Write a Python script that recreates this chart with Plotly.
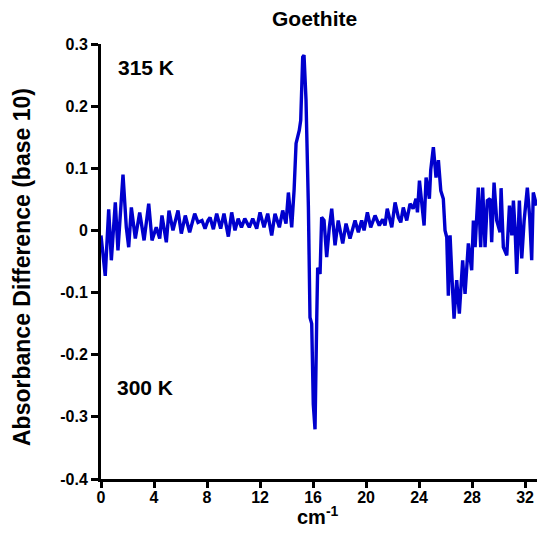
import plotly.graph_objects as go

wavenumber = [0.0, 0.32, 0.58, 0.78, 1.08, 1.28, 1.66, 1.91, 2.09, 2.29, 2.59, 2.92, 3.25, 3.6, 3.85,
              4.17, 4.43, 4.6, 4.93, 5.13, 5.43, 5.81, 6.06, 6.36, 6.69, 7.07, 7.32, 7.62, 7.85, 8.07,
              8.23, 8.48, 8.73, 9.03, 9.28, 9.61, 9.86, 10.11, 10.35, 10.6, 10.85, 11.19, 11.45, 11.75,
              12.0, 12.3, 12.58, 12.88, 13.13, 13.46, 13.71, 13.96, 14.14, 14.39, 14.57, 14.72, 14.96,
              15.07, 15.22, 15.32, 15.47, 15.65, 15.77, 15.9, 16.02, 16.15, 16.28, 16.35, 16.53, 16.65,
              16.83, 17.03, 17.23, 17.41, 17.66, 17.9, 18.24, 18.49, 18.79, 19.17, 19.42, 19.67, 19.85,
              20.1, 20.35, 20.68, 21.0, 21.25, 21.43, 21.6, 21.94, 22.19, 22.44, 22.62, 22.81, 23.07,
              23.32, 23.55, 23.77, 23.88, 24.03, 24.2, 24.38, 24.53, 24.78, 24.88, 25.08, 25.28, 25.46,
              25.64, 25.83, 25.96, 26.09, 26.21, 26.34, 26.47, 26.64, 26.84, 27.04, 27.29, 27.47, 27.72,
              27.97, 28.1, 28.23, 28.47, 28.65, 28.8, 28.98, 29.15, 29.36, 29.48, 29.66, 29.86, 30.11,
              30.19, 30.36, 30.62, 30.82, 31.0, 31.12, 31.25, 31.37, 31.57, 31.75, 31.93, 32.17, 32.35,
              32.5, 32.62, 32.87]

absorbance = [-0.008, -0.073, 0.034, -0.048, 0.045, -0.032, 0.09, 0.005, -0.027, 0.037, -0.013, 0.029,
              -0.016, 0.043, -0.016, 0.005, -0.013, 0.024, -0.019, 0.032, 0.0, 0.032, -0.005, 0.024,
              -0.003, 0.027, 0.013, 0.016, 0.003, 0.016, 0.021, 0.002, 0.027, 0.003, 0.027, -0.01, 0.029,
              0.0, 0.019, 0.005, 0.019, 0.005, 0.019, 0.003, 0.029, 0.005, 0.027, -0.008, 0.027, 0.005,
              0.032, 0.011, 0.061, 0.005, 0.065, 0.14, 0.161, 0.177, 0.279, 0.282, 0.21, 0.037, -0.14,
              -0.15, -0.28, -0.32, -0.14, -0.06, -0.07, 0.021, 0.016, -0.043, 0.005, 0.035, -0.024, 0.016,
              -0.021, 0.011, -0.013, 0.016, -0.003, 0.016, 0.0, 0.029, 0.005, 0.024, 0.008, 0.018, 0.008,
              0.035, 0.005, 0.045, 0.021, 0.013, 0.037, 0.016, 0.043, 0.035, 0.051, 0.029, 0.08, 0.048,
              0.008, 0.085, 0.051, 0.097, 0.134, 0.085, 0.113, 0.064, 0.051, 0.0, -0.011, -0.105, -0.008,
              -0.07, -0.142, -0.08, -0.134, -0.048, -0.102, -0.021, -0.064, 0.016, -0.027, 0.069, -0.027,
              0.069, -0.027, 0.048, 0.051, -0.019, 0.077, 0.016, -0.003, 0.068, -0.027, -0.04, 0.04,
              -0.008, 0.048, 0.0, -0.07, 0.048, -0.045, 0.016, 0.069, 0.021, -0.048, 0.061, 0.04]

x_ticks = [0, 4, 8, 12, 16, 20, 24, 28, 32]
y_ticks = [-0.4, -0.3, -0.2, -0.1, 0, 0.1, 0.2, 0.3]
y_tick_labels = ["-0.4", "-0.3", "-0.2", "-0.1", "0", "0.1", "0.2", "0.3"]

FF = "Liberation Sans"

W, H = 537, 547
PL, PT, PW, PH = 101, 44, 436, 435  # plot area in pixels

fig = go.Figure()
fig.add_trace(go.Scatter(x=wavenumber, y=absorbance, mode="lines",
                         line=dict(color="#0000CD", width=3.4), showlegend=False))


def px_x(p):
    return (p - PL) / PW


def px_y(p):
    return (PT + PH - p) / PH


fig.update_layout(
    width=W, height=H,
    margin=dict(l=PL, r=W - PL - PW, t=PT, b=H - PT - PH),
    plot_bgcolor="white", paper_bgcolor="white",
    font=dict(family=FF, color="black"),
    xaxis=dict(range=[0, 32.9], tickvals=x_ticks, ticktext=["<b>%d</b>" % t for t in x_ticks],
               ticks="outside", ticklen=6, tickwidth=3, ticklabelstandoff=-4,
               tickcolor="black", showline=True, linecolor="black", linewidth=3,
               showgrid=False, zeroline=False, automargin=False,
               tickfont=dict(size=16, family=FF, color="black")),
    yaxis=dict(range=[-0.4, 0.3], tickvals=y_ticks, ticktext=["<b>%s</b>" % t for t in y_tick_labels],
               ticks="outside", ticklen=7, tickwidth=3, tickcolor="black",
               showline=True, linecolor="black", linewidth=3, showgrid=False, zeroline=False,
               automargin=False,
               tickfont=dict(size=16, family=FF, color="black")),
    annotations=[
        dict(text="<b>Goethite</b>", x=px_x(314), y=px_y(18), xref="paper", yref="paper",
             xanchor="center", yanchor="middle", showarrow=False,
             font=dict(size=21, family=FF, color="black")),
        dict(text="<b>Absorbance Difference (base 10)</b>", x=px_x(22), y=px_y(267),
             xref="paper", yref="paper", xanchor="center", yanchor="middle", textangle=-90,
             showarrow=False, font=dict(size=23, family=FF, color="black")),
        dict(text="<b>cm<sup>-1</sup></b>", x=px_x(318), y=px_y(515),
             xref="paper", yref="paper", xanchor="center", yanchor="middle",
             showarrow=False, font=dict(size=20, family=FF, color="black")),
        dict(text="<b>315 K</b>", x=1.1, y=0.262, xref="x", yref="y", xanchor="left",
             yanchor="middle", showarrow=False, font=dict(size=21, family=FF, color="black")),
        dict(text="<b>300 K</b>", x=1.05, y=-0.252, xref="x", yref="y", xanchor="left",
             yanchor="middle", showarrow=False, font=dict(size=21, family=FF, color="black")),
    ],
)

# Remove the default page margin and scrollbars so the figure sits at (0, 0).
page_reset = ("document.body.style.margin='0';"
              "document.documentElement.style.overflow='hidden';"
              "document.body.style.overflow='hidden';")

fig.write_html("out.html", post_script=page_reset, config={"displayModeBar": False})
